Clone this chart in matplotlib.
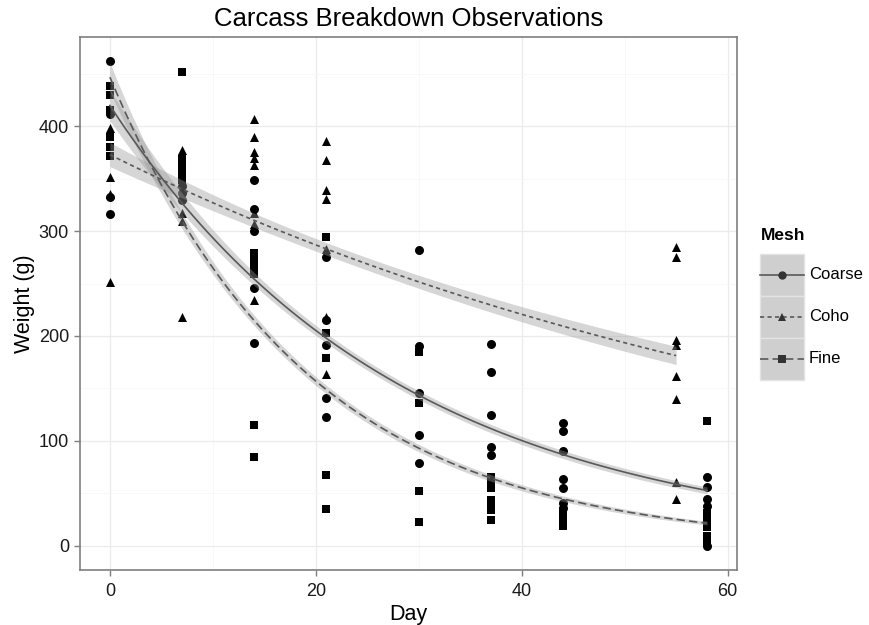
import numpy as np
import matplotlib
matplotlib.use("Agg")
import matplotlib.pyplot as plt
from matplotlib.lines import Line2D
from matplotlib.patches import Patch
from matplotlib.legend_handler import HandlerLine2D

plt.rcParams['font.family'] = ['Liberation Sans', 'DejaVu Sans']

# observations (day, weight in g) for each mesh type
coarse_day = [0, 0, 0, 0,
              7, 7, 7,
              14, 14, 14, 14, 14,
              21, 21, 21, 21, 21,
              30, 30, 30, 30, 30,
              37, 37, 37, 37, 37,
              44, 44, 44, 44, 44, 44, 44,
              58, 58, 58, 58, 58]
coarse_wt = [462, 412, 332, 316,
             343, 336, 330,
             349, 321, 300, 246, 193,
             275, 215, 191, 141, 123,
             282, 190, 146, 106, 79,
             192, 166, 125, 94, 87,
             117, 109, 90, 64, 55, 41, 36,
             66, 56, 45, 38, 0]

coho_day = [0, 0, 0, 0,
            7, 7, 7, 7,
            14, 14, 14, 14, 14, 14, 14, 14,
            21, 21, 21, 21, 21, 21, 21,
            55, 55, 55, 55, 55, 55, 55, 55]
coho_wt = [398, 352, 335, 251,
           377, 317, 310, 218,
           407, 390, 375, 370, 363, 317, 307, 234,
           386, 368, 339, 331, 283, 218, 164,
           285, 275, 196, 191, 162, 140, 61, 45]

fine_day = [0, 0, 0, 0, 0, 0,
            7, 7, 7, 7, 7,
            14, 14, 14, 14, 14, 14,
            21, 21, 21, 21, 21,
            30, 30, 30, 30,
            37, 37, 37, 37, 37, 37, 37,
            44, 44, 44, 44,
            58, 58, 58, 58, 58, 58]
fine_wt = [438, 430, 415, 390, 380, 372,
           452, 369, 362, 355, 349,
           279, 272, 265, 259, 115, 85,
           294, 203, 179, 67, 35,
           185, 136, 52, 23,
           66, 61, 55, 44, 38, 34, 25,
           33, 29, 25, 19,
           119, 31, 25, 18, 9, 3]

mesh_names = ['Coarse', 'Coho', 'Fine']
markers = ['o', '^', 's']
dashes = [None, (2.5, 2.0), (5.0, 2.5)]


def fit_poisson(x, y):
    # glm(y ~ x, family = poisson) by IRLS, band on the link scale
    x = np.asarray(x, float)
    y = np.asarray(y, float)
    X = np.column_stack([np.ones_like(x), x])
    beta = np.linalg.lstsq(X, np.log(y + 1), rcond=None)[0]
    for _ in range(100):
        mu = np.exp(X @ beta)
        z = X @ beta + (y - mu) / mu
        XtW = X.T * mu
        new = np.linalg.solve(XtW @ X, XtW @ z)
        if np.abs(new - beta).max() < 1e-12:
            beta = new
            break
        beta = new
    mu = np.exp(X @ beta)
    cov = np.linalg.inv((X.T * mu) @ X)
    xs = np.linspace(x.min(), x.max(), 80)
    Xs = np.column_stack([np.ones_like(xs), xs])
    eta = Xs @ beta
    se = np.sqrt(np.einsum('ij,jk,ik->i', Xs, cov, Xs))
    return xs, np.exp(eta), np.exp(eta - 1.96 * se), np.exp(eta + 1.96 * se)


class CenteredLine(HandlerLine2D):
    # put the key line in the middle of the grey key box
    def create_artists(self, legend, orig_handle, xdescent, ydescent,
                       width, height, fontsize, trans):
        arts = super().create_artists(legend, orig_handle, xdescent, ydescent,
                                      width, height, fontsize, trans)
        for a in arts:
            a.set_ydata(np.asarray(a.get_ydata()) - ydescent / 2)
        return arts


fig = plt.figure(figsize=(8.7, 6.25), dpi=100)
ax = fig.add_axes([0.092, 0.088, 0.755, 0.853])

series = [(coarse_day, coarse_wt), (coho_day, coho_wt), (fine_day, fine_wt)]
handles = []
for (d, w), name, m, ds in zip(series, mesh_names, markers, dashes):
    ax.scatter(d, w, marker=m, s=42 if m != 's' else 36, color='black',
               linewidths=0, zorder=2)
    xs, f, lo, hi = fit_poisson(d, w)
    ax.fill_between(xs, lo, hi, color='#999999', alpha=0.4, linewidth=0, zorder=3)
    ln, = ax.plot(xs, f, color='#595959', lw=1.2, zorder=4)
    if ds is not None:
        ln.set_dashes(ds)
    key_line = Line2D([], [], color='#595959', lw=1.2, marker=m, markersize=6,
                      markerfacecolor='#333333', markeredgewidth=0)
    if ds is not None:
        key_line.set_dashes(ds)
    key_bg = Patch(facecolor='#cfcfcf', edgecolor='#e3e3e3', linewidth=1)
    handles.append((key_bg, key_line))

all_wt = coarse_wt + coho_wt + fine_wt
all_day = coarse_day + coho_day + fine_day
yr = max(all_wt) - min(all_wt)
xr = max(all_day) - min(all_day)
ax.set_ylim(min(all_wt) - 0.05 * yr, max(all_wt) + 0.05 * yr)
ax.set_xlim(min(all_day) - 0.05 * xr, max(all_day) + 0.05 * xr)

ax.set_xticks([0, 20, 40, 60])
ax.set_yticks([0, 100, 200, 300, 400])
ax.set_xticks([10, 30, 50], minor=True)
ax.set_yticks([50, 150, 250, 350, 450], minor=True)
ax.grid(which='major', color='#ebebeb', lw=0.9)
ax.grid(which='minor', color='#f7f7f7', lw=0.6)
ax.set_axisbelow(True)
ax.tick_params(which='major', length=4, width=1, color='#7f7f7f',
               labelsize=13, labelcolor='#1a1a1a', pad=5)
ax.tick_params(axis='y', which='major', pad=4)
ax.tick_params(which='minor', length=0)
for sp in ax.spines.values():
    sp.set_color('#7f7f7f')
    sp.set_linewidth(1.2)

ax.set_title('Carcass Breakdown Observations', fontsize=18.5, pad=8)
ax.set_xlabel('Day', fontsize=15.5, labelpad=3)
ax.set_ylabel('Weight (g)', fontsize=15.5, labelpad=3)

leg = ax.legend(handles, mesh_names, loc='upper left',
                bbox_to_anchor=(0.874, 0.636), bbox_transform=fig.transFigure,
                borderaxespad=0, frameon=False, title='Mesh', alignment='left',
                handlelength=2.6, handleheight=3.5, labelspacing=0,
                handletextpad=0.3, borderpad=0, fontsize=12,
                title_fontproperties={'weight': 'bold', 'size': 12.5},
                handler_map={Line2D: CenteredLine(numpoints=1)})
leg._legend_box.sep = 8

fig.savefig('out.png', dpi=100)
